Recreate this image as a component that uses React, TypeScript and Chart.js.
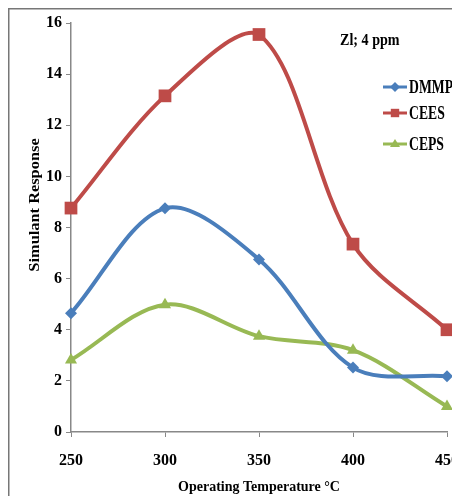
import React, { useEffect, useRef } from "react";
import { Chart, registerables } from "chart.js";

Chart.register(...registerables);

const temperatures = ["250", "300", "350", "400", "450"];
const dmmp = [4.65, 8.75, 6.75, 2.52, 2.18];
const cees = [8.76, 13.15, 15.55, 7.35, 4.0];
const ceps = [2.82, 4.98, 3.75, 3.2, 1.0];
const seriesNames = ["DMMP.", "CEES", "CEPS"];
const annotation = "Zl; 4 ppm";
const xTitle = "Operating Temperature \u00B0C";
const yTitle = "Simulant Response";

const COLORS = ["#4a7ebb", "#be4b48", "#98b954"];
const STYLES = ["rectRot", "rect", "triangle"];
const RADII = [6, 9, 7];
const FONT = "'Liberation Serif', 'Times New Roman', serif";

export default function App() {
  const ref = useRef<HTMLCanvasElement>(null);
  useEffect(() => {
    if (!ref.current) return;
    document.documentElement.style.overflow = "hidden";
    document.body.style.overflow = "hidden";
    const overlay = {
      id: "overlay",
      beforeDraw(chart: any) {
        const ctx = chart.ctx;
        ctx.save();
        ctx.strokeStyle = "#777";
        ctx.lineWidth = 1.5;
        ctx.beginPath();
        ctx.moveTo(0.75, chart.height);
        ctx.lineTo(0.75, 0.75);
        ctx.lineTo(chart.width, 0.75);
        ctx.stroke();
        ctx.restore();
      },
      afterDraw(chart: any) {
        const ctx = chart.ctx;
        ctx.save();
        ctx.fillStyle = "#000";
        ctx.textBaseline = "middle";
        ctx.textAlign = "left";
        ctx.save();
        ctx.translate(332, 33);
        ctx.scale(0.83, 1);
        ctx.font = `bold 17px ${FONT}`;
        ctx.fillText(annotation, 0, 0);
        ctx.restore();
        ctx.save();
        ctx.translate(27, 197);
        ctx.rotate(-Math.PI / 2);
        ctx.scale(1.17, 1);
        ctx.textAlign = "center";
        ctx.font = `bold 14px ${FONT}`;
        ctx.fillText(yTitle, 0, 0);
        ctx.restore();
        const rows = [79, 105, 136];
        const cx = 387;
        seriesNames.forEach((name, i) => {
          const y = rows[i];
          ctx.strokeStyle = COLORS[i];
          ctx.lineWidth = 3;
          ctx.beginPath();
          ctx.moveTo(375, y);
          ctx.lineTo(399, y);
          ctx.stroke();
          ctx.fillStyle = COLORS[i];
          ctx.beginPath();
          if (i === 0) {
            const r = 5;
            ctx.moveTo(cx - r, y);
            ctx.lineTo(cx, y - r);
            ctx.lineTo(cx + r, y);
            ctx.lineTo(cx, y + r);
          } else if (i === 1) {
            const r = 4.2;
            ctx.rect(cx - r, y - r, 2 * r, 2 * r);
          } else {
            const r = 5;
            ctx.moveTo(cx, y - r);
            ctx.lineTo(cx + r, y + r * 0.6);
            ctx.lineTo(cx - r, y + r * 0.6);
          }
          ctx.closePath();
          ctx.fill();
          ctx.save();
          ctx.translate(401, y + 1);
          ctx.scale(0.76, 1);
          ctx.fillStyle = "#000";
          ctx.font = `bold 18px ${FONT}`;
          ctx.fillText(name, 0, 0);
          ctx.restore();
        });
        ctx.restore();
      },
    };
    const data = [dmmp, cees, ceps];
    const chart = new Chart(ref.current, {
      type: "line",
      data: {
        labels: temperatures,
        datasets: seriesNames.map((name, i) => ({
          label: name,
          data: data[i],
          borderColor: COLORS[i],
          backgroundColor: COLORS[i],
          borderWidth: 4,
          pointStyle: STYLES[i] as any,
          pointRadius: RADII[i],
          pointBorderWidth: 0,
          tension: 0.33,
          clip: false as any,
        })),
      },
      options: {
        animation: false,
        responsive: false,
        maintainAspectRatio: false,
        layout: { padding: { left: 18, top: 15, right: 13, bottom: 0 } },
        plugins: {
          legend: { display: false },
          tooltip: { enabled: false },
        },
        scales: {
          x: {
            offset: false,
            border: { display: true, color: "#888", width: 1.5 },
            grid: { display: true, drawOnChartArea: false, drawTicks: true, tickLength: 5, color: "#888" },
            ticks: { color: "#000", font: { family: FONT, size: 16, weight: "bold" }, padding: 14, maxRotation: 0 },
            title: { display: true, text: xTitle, color: "#000", font: { family: FONT, size: 14, weight: "bold" }, padding: { top: 4, bottom: 0 } },
            afterFit(s: any) { s.height = 64; s.paddingRight = 0; s.paddingLeft = 0; },
          },
          y: {
            min: 0,
            max: 16,
            border: { display: true, color: "#888", width: 1.5 },
            grid: { display: true, drawOnChartArea: false, drawTicks: true, tickLength: 5, color: "#888" },
            ticks: { stepSize: 2, color: "#000", font: { family: FONT, size: 16, weight: "bold" }, padding: 4 },
            title: { display: false },
            afterFit(s: any) { s.width = 45; },
          },
        },
      } as any,
      plugins: [overlay],
    });
    return () => chart.destroy();
  }, []);
  return (
    <div style={{ width: 452, height: 488 }}>
      <canvas ref={ref} width={452} height={488} style={{ display: "block" }} />
    </div>
  );
}
